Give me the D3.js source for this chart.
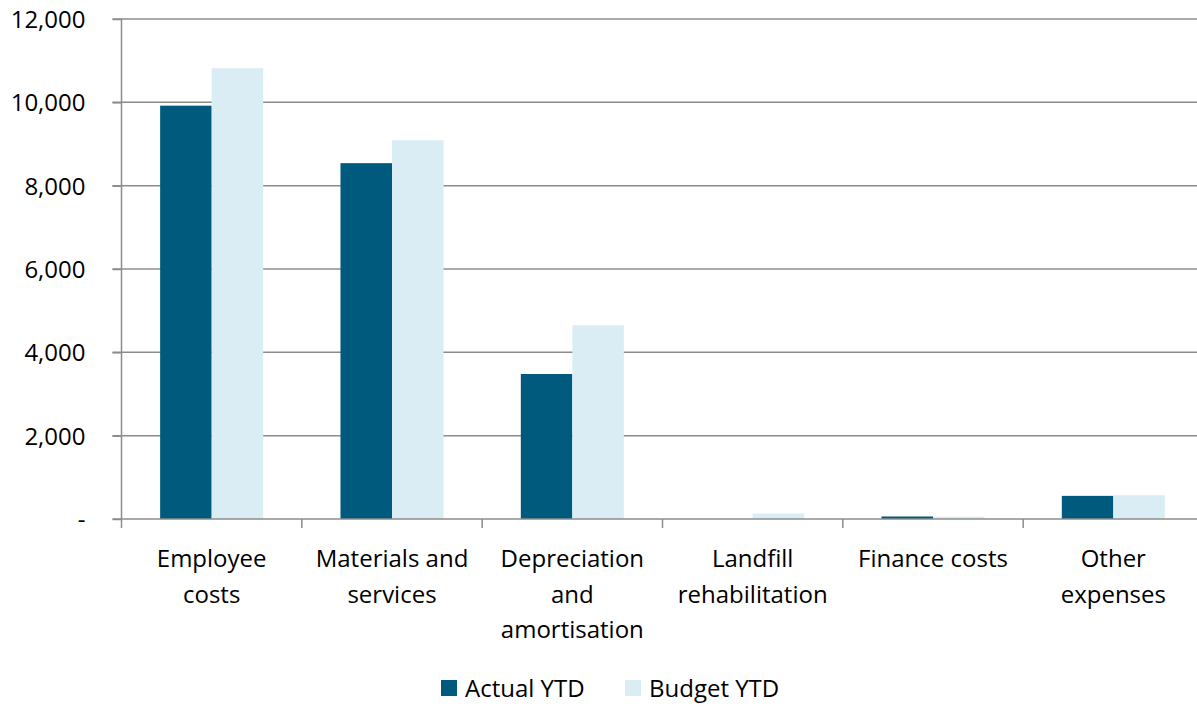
<!DOCTYPE html>
<meta charset="utf-8">
<style>
body { margin: 0; background: #fff; }
text { font-family: "Open Sans", "Noto Sans", sans-serif; fill: #000; }
.grid line { stroke: #8c8c8c; stroke-width: 1.5; }
.axis path, .axis line { stroke: #8c8c8c; stroke-width: 1.5; fill: none; }
</style>
<body>
<script src="https://d3js.org/d3.v7.min.js"></script>
<script>
var categories = ["Employee costs", "Materials and services", "Depreciation and amortisation",
                  "Landfill rehabilitation", "Finance costs", "Other expenses"];
var catLines = [["Employee", "costs"], ["Materials and", "services"], ["Depreciation", "and", "amortisation"],
                ["Landfill", "rehabilitation"], ["Finance costs"], ["Other", "expenses"]];
var series = ["Actual YTD", "Budget YTD"];
var actual = [9920, 8540, 3480, 0, 60, 555];
var budget = [10820, 9090, 4650, 130, 55, 570];
var yTicks = [0, 2000, 4000, 6000, 8000, 10000, 12000];
var colors = ["#005a7d", "#daedf4"];

var W = 1197, H = 710;
var plotL = 121.5, plotR = 1203.5, plotT = 19, plotB = 519;
var fs = "24px";

var svg = d3.select("body").append("svg")
    .attr("width", W)
    .attr("height", H);

var x0 = d3.scaleBand().domain(categories).range([plotL, plotR]);
var x1 = d3.scaleBand().domain(series).range([0, x0.bandwidth()]).paddingOuter(0.75);
var y = d3.scaleLinear().domain([0, 12000]).range([plotB, plotT]);

// gridlines
svg.append("g").attr("class", "grid")
  .selectAll("line")
  .data(yTicks.slice(1))
  .enter().append("line")
    .attr("x1", plotL - 9).attr("x2", plotR)
    .attr("y1", function(d) { return y(d); })
    .attr("y2", function(d) { return y(d); });

var data = categories.map(function(c, i) {
  return {cat: c, vals: [actual[i], budget[i]]};
});

var groups = svg.selectAll(".grp")
  .data(data)
  .enter().append("g")
    .attr("transform", function(d) { return "translate(" + x0(d.cat) + ",0)"; });

groups.selectAll("rect")
  .data(function(d) { return d.vals.map(function(v, j) { return {s: series[j], v: v, j: j}; }); })
  .enter().append("rect")
    .attr("x", function(d) { return x1(d.s); })
    .attr("width", x1.bandwidth())
    .attr("y", function(d) { return y(d.v); })
    .attr("height", function(d) { return y(0) - y(d.v); })
    .attr("fill", function(d) { return colors[d.j]; });

// y axis
var yAxis = d3.axisLeft(y).tickValues(yTicks).tickSize(9).tickPadding(27)
    .tickFormat(function(d) { return d === 0 ? "-" : d3.format(",")(d); });
var ya = svg.append("g").attr("class", "axis")
    .attr("transform", "translate(" + plotL + ",0)")
    .call(yAxis);
ya.select(".domain").attr("d", "M0," + plotT + "V" + plotB);
ya.selectAll("text").style("font-size", fs).attr("dy", "0.35em");
ya.selectAll(".tick").filter(function(d) { return d === 0; }).select("text").attr("x", -36);

// x axis baseline and ticks
var xa = svg.append("g").attr("class", "axis");
xa.append("line").attr("x1", plotL - 9).attr("x2", plotR).attr("y1", plotB).attr("y2", plotB);
xa.selectAll(".xt")
  .data(categories)
  .enter().append("line")
    .attr("x1", function(d) { return x0(d); })
    .attr("x2", function(d) { return x0(d); })
    .attr("y1", plotB).attr("y2", plotB + 9);

// category labels
var labels = svg.selectAll(".clab")
  .data(categories)
  .enter().append("text")
    .attr("text-anchor", "middle")
    .style("font-size", fs)
    .attr("x", function(d) { return x0(d) + x0.bandwidth() / 2; })
    .attr("y", 567);
labels.selectAll("tspan")
  .data(function(d, i) { return catLines[i]; })
  .enter().append("tspan")
    .attr("x", function() { return d3.select(this.parentNode).attr("x"); })
    .attr("dy", function(d, i) { return i === 0 ? 0 : 35.5; })
    .text(function(d) { return d; });

// legend
var legX = [441, 625];
var leg = svg.selectAll(".leg")
  .data(series)
  .enter().append("g")
    .attr("transform", function(d, i) { return "translate(" + legX[i] + ",680)"; });
leg.append("rect").attr("width", 16).attr("height", 16)
  .attr("fill", function(d, i) { return colors[i]; });
leg.append("text").attr("x", 24).attr("y", 17)
  .style("font-size", fs)
  .text(function(d) { return d; });
</script>
